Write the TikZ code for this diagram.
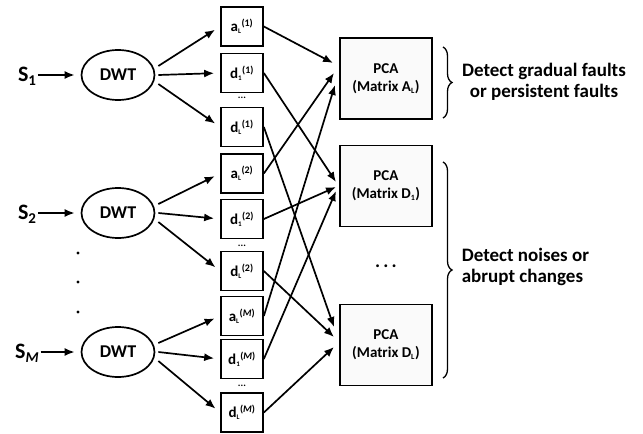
\documentclass[tikz,border=0pt]{standalone}
\usepackage{fontspec}
\setmainfont{Carlito}
\usetikzlibrary{arrows.meta}
\usetikzlibrary{shapes.geometric}
\usetikzlibrary{decorations.pathreplacing}

\newcommand{\lowidx}[1]{\raisebox{-4pt}{\fontsize{15}{15}\selectfont #1}}
\newcommand{\coef}[3]{#1\textsubscript{\fontsize{7}{7}\selectfont #2}\textsuperscript{\fontsize{10}{10}\selectfont (#3)}}
\newcommand{\matsub}[1]{\textsubscript{\fontsize{8}{8}\selectfont #1}}

\begin{document}
\begin{tikzpicture}[
    x=1pt,y=-1pt,
    line width=1.7pt,
    >={Latex[length=10pt,width=8pt]},
    signal/.style={inner sep=1pt,font=\bfseries\fontsize{22}{22}\selectfont},
    dwt/.style={draw,ellipse,minimum width=73pt,minimum height=50pt,inner sep=0pt,
      font=\bfseries\fontsize{18}{18}\selectfont},
    coefbox/.style={draw,minimum width=42pt,minimum height=39pt,inner sep=0pt,
      font=\bfseries\fontsize{15}{15}\selectfont},
    pcabox/.style={draw,minimum width=92pt,minimum height=81pt,inner sep=0pt,align=center,
      fill=black!2,font=\bfseries\fontsize{15}{18}\selectfont},
    gap/.style={inner sep=0pt,font=\bfseries\fontsize{10}{10}\selectfont},
    note/.style={inner sep=0pt,font=\bfseries\fontsize{19}{21}\selectfont}]
  \useasboundingbox (0,0) rectangle (643,434);
  \coordinate (inA1) at (333,63);
  \coordinate (inA2) at (334,73);
  \coordinate (inAM) at (335,85);
  \coordinate (inD11) at (336,182);
  \coordinate (inD12) at (336,187);
  \coordinate (inD1M) at (336,191);
  \coordinate (inDL1) at (334,327);
  \coordinate (inDL2) at (334,337);
  \coordinate (inDLM) at (334,347);
  \coordinate (braceA1) at (443,47);
  \coordinate (braceA2) at (443,118);
  \coordinate (braceD1) at (443,162);
  \coordinate (braceD2) at (443,378);
  \node[signal] (s1) at (27,76) {S\lowidx{1}};
  \node[signal] (s2) at (27,214) {S\lowidx{2}};
  \node[signal] (sM) at (27,353) {S\lowidx{\textit{M}}};
  \node[dwt] (dwt1) at (118,75) {DWT};
  \node[dwt] (dwt2) at (118,213) {DWT};
  \node[dwt] (dwtM) at (118,352) {DWT};
  \node[coefbox] (a1) at (242,26.5) {\coef{a}{L}{1}};
  \node[coefbox] (d11) at (242,73) {\coef{d}{1}{1}};
  \node[coefbox] (dL1) at (242,127) {\coef{d}{L}{1}};
  \node[coefbox] (a2) at (242,173.5) {\coef{a}{L}{2}};
  \node[coefbox] (d12) at (242,219) {\coef{d}{1}{2}};
  \node[coefbox] (dL2) at (242,271) {\coef{d}{L}{2}};
  \node[coefbox] (aM) at (242,316) {\coef{a}{L}{\textit{M}}};
  \node[coefbox] (d1M) at (242,359) {\coef{d}{1}{\textit{M}}};
  \node[coefbox] (dLM) at (242,412.5) {\coef{d}{L}{\textit{M}}};
  \node[gap] (gap1) at (242,98) {...};
  \node[gap] (gap2) at (242,246) {...};
  \node[gap] (gapM) at (242,386) {...};
  \node[pcabox] (pcaA) at (386,78.5) {PCA\\(Matrix A\matsub{L})};
  \node[pcabox] (pcaD1) at (386,186) {PCA\\(Matrix D\matsub{1})};
  \node[pcabox] (pcaDL) at (386,345) {PCA\\(Matrix D\matsub{L})};
  \node[note] (pcagap) at (386,266) {.\,.\,.};
  \node[note,align=center] (noteA) at (544,82)
    {Detect gradual faults\\or persistent faults};
  \node[note,align=left,anchor=west] (noteD) at (461,267)
    {Detect noises or\\abrupt changes};
  \fill
    (78,253)
    circle
    [radius=1.7pt];
  \fill
    (78,282)
    circle
    [radius=1.7pt];
  \fill
    (78,312)
    circle
    [radius=1.7pt];
  \draw[->,shorten >=6pt]
    (s1.east |- dwt1.west)
    --
    (dwt1.west);
  \draw[->,shorten >=6pt]
    (s2.east |- dwt2.west)
    --
    (dwt2.west);
  \draw[->,shorten >=6pt]
    (sM.east |- dwtM.west)
    --
    (dwtM.west);
  \draw[->,shorten >=6pt]
    ([xshift=3pt,yshift=9pt]dwt1.east)
    --
    (a1.west);
  \draw[->,shorten >=6pt]
    ([xshift=3pt]dwt1.east)
    --
    (d11.west);
  \draw[->,shorten >=6pt]
    ([xshift=3pt,yshift=-9pt]dwt1.east)
    --
    (dL1.west);
  \draw[->,shorten >=6pt]
    ([xshift=3pt,yshift=9pt]dwt2.east)
    --
    (a2.west);
  \draw[->,shorten >=6pt]
    ([xshift=3pt]dwt2.east)
    --
    (d12.west);
  \draw[->,shorten >=6pt]
    ([xshift=3pt,yshift=-9pt]dwt2.east)
    --
    (dL2.west);
  \draw[->,shorten >=6pt]
    ([xshift=3pt,yshift=9pt]dwtM.east)
    --
    (aM.west);
  \draw[->,shorten >=6pt]
    ([xshift=3pt]dwtM.east)
    --
    (d1M.west);
  \draw[->,shorten >=6pt]
    ([xshift=3pt,yshift=-9pt]dwtM.east)
    --
    (dLM.west);
  \draw[->]
    (a1.east)
    --
    (inA1);
  \draw[->]
    (a2.east)
    --
    (inA2);
  \draw[->]
    (aM.east)
    --
    (inAM);
  \draw[->]
    (d11.east)
    --
    (inD11);
  \draw[->]
    (d12.east)
    --
    (inD12);
  \draw[->]
    (d1M.east)
    --
    (inD1M);
  \draw[->]
    (dL1.east)
    --
    (inDL1);
  \draw[->]
    (dL2.east)
    --
    (inDL2);
  \draw[->]
    (dLM.east)
    --
    (inDLM);
  \draw[line width=1.3pt,decorate,decoration={brace,amplitude=9pt}]
    (braceA1)
    --
    (braceA2);
  \draw[line width=1.3pt,decorate,decoration={brace,amplitude=9pt}]
    (braceD1)
    --
    (braceD2);
\end{tikzpicture}
\end{document}
